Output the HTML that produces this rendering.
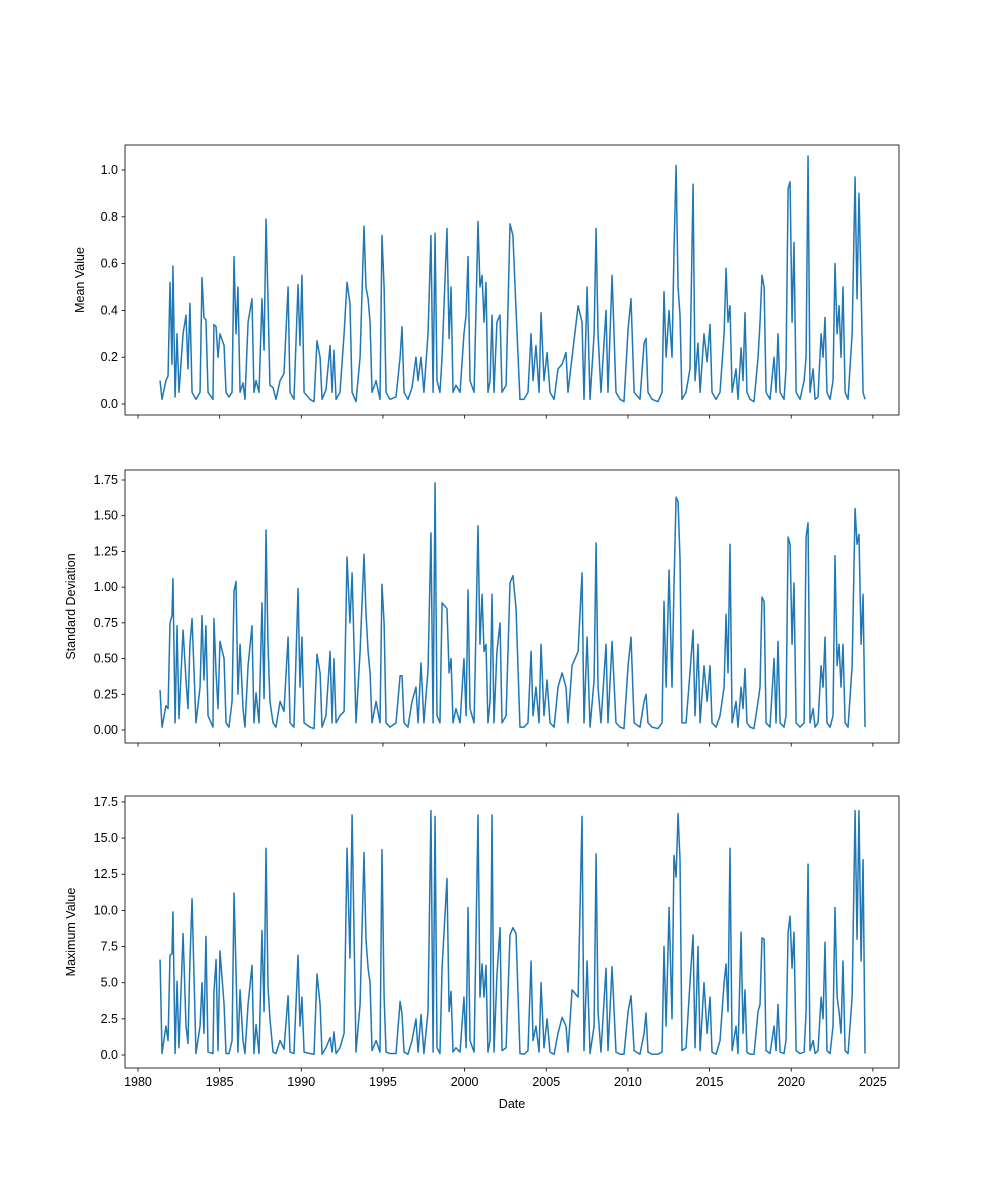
<!DOCTYPE html>
<html>
<head>
<meta charset="utf-8">
<style>
  html, body { margin: 0; padding: 0; background: #fff; }
  svg { display: block; font-family: "Liberation Sans", "DejaVu Sans", sans-serif; }
</style>
</head>
<body>
<svg id="chart" width="1000" height="1200" viewBox="0 0 1000 1200" xmlns="http://www.w3.org/2000/svg">
  <rect x="0" y="0" width="1000" height="1200" fill="#ffffff"></rect>
</svg>
<script>
const dates = [1981.35,1981.47,1981.71,1981.84,1981.96,1982.08,1982.14,1982.27,1982.39,1982.51,1982.76,1982.94,1983.06,1983.18,1983.31,1983.55,1983.8,1983.92,1984.04,1984.16,1984.29,1984.59,1984.65,1984.78,1984.9,1985.02,1985.27,1985.39,1985.57,1985.76,1985.88,1986.0,1986.12,1986.25,1986.43,1986.55,1986.74,1986.98,1987.1,1987.23,1987.41,1987.59,1987.72,1987.84,1987.96,1988.08,1988.27,1988.45,1988.7,1988.94,1989.19,1989.31,1989.55,1989.8,1989.92,1990.04,1990.17,1990.53,1990.78,1990.96,1991.15,1991.27,1991.51,1991.76,1991.88,1992.0,1992.13,1992.37,1992.62,1992.8,1992.98,1993.11,1993.35,1993.6,1993.84,1993.96,1994.09,1994.21,1994.33,1994.58,1994.82,1994.94,1995.07,1995.19,1995.43,1995.8,1996.05,1996.17,1996.29,1996.53,1996.78,1997.02,1997.15,1997.33,1997.51,1997.76,1997.94,1998.07,1998.19,1998.31,1998.49,1998.62,1998.92,1999.05,1999.17,1999.29,1999.47,1999.72,1999.96,2000.09,2000.21,2000.33,2000.58,2000.82,2000.94,2001.07,2001.19,2001.31,2001.43,2001.56,2001.68,2001.8,2001.98,2002.17,2002.29,2002.54,2002.78,2002.96,2003.15,2003.39,2003.64,2003.88,2004.07,2004.19,2004.37,2004.56,2004.68,2004.86,2005.05,2005.23,2005.48,2005.72,2005.97,2006.21,2006.33,2006.58,2006.95,2007.19,2007.31,2007.5,2007.68,2007.93,2008.05,2008.17,2008.35,2008.66,2008.78,2009.03,2009.27,2009.52,2009.76,2010.01,2010.19,2010.38,2010.74,2010.99,2011.11,2011.23,2011.48,2011.84,2012.09,2012.21,2012.34,2012.52,2012.7,2012.82,2012.95,2013.07,2013.19,2013.31,2013.56,2013.8,2013.99,2014.11,2014.29,2014.42,2014.66,2014.85,2015.03,2015.15,2015.4,2015.64,2015.89,2016.01,2016.13,2016.25,2016.38,2016.62,2016.74,2016.93,2017.05,2017.17,2017.29,2017.48,2017.72,2017.97,2018.09,2018.21,2018.34,2018.46,2018.7,2018.95,2019.07,2019.19,2019.32,2019.56,2019.68,2019.81,2019.93,2020.05,2020.17,2020.3,2020.54,2020.79,2020.91,2021.03,2021.15,2021.34,2021.46,2021.64,2021.83,2021.95,2022.07,2022.19,2022.38,2022.56,2022.68,2022.81,2022.93,2023.05,2023.17,2023.3,2023.48,2023.73,2023.91,2024.03,2024.15,2024.28,2024.4,2024.52];

const meanVals = [0.1,0.02,0.1,0.12,0.52,0.17,0.59,0.03,0.3,0.05,0.3,0.38,0.15,0.43,0.05,0.02,0.05,0.54,0.37,0.36,0.05,0.02,0.34,0.33,0.2,0.3,0.25,0.05,0.03,0.05,0.63,0.3,0.5,0.05,0.09,0.02,0.35,0.45,0.05,0.1,0.05,0.45,0.23,0.79,0.45,0.08,0.07,0.02,0.1,0.13,0.5,0.05,0.02,0.51,0.25,0.55,0.05,0.02,0.01,0.27,0.2,0.02,0.06,0.25,0.05,0.23,0.02,0.05,0.3,0.52,0.43,0.05,0.01,0.2,0.76,0.5,0.45,0.35,0.05,0.1,0.02,0.72,0.5,0.05,0.02,0.03,0.2,0.33,0.05,0.02,0.07,0.2,0.1,0.2,0.05,0.3,0.72,0.05,0.73,0.1,0.05,0.2,0.75,0.28,0.5,0.05,0.08,0.05,0.3,0.38,0.63,0.1,0.05,0.78,0.5,0.55,0.35,0.52,0.05,0.1,0.38,0.05,0.35,0.38,0.05,0.08,0.77,0.72,0.4,0.02,0.02,0.05,0.3,0.1,0.25,0.05,0.39,0.1,0.22,0.05,0.02,0.15,0.17,0.22,0.05,0.2,0.42,0.35,0.02,0.5,0.02,0.3,0.75,0.3,0.05,0.4,0.05,0.55,0.05,0.02,0.01,0.32,0.45,0.05,0.02,0.26,0.28,0.05,0.02,0.01,0.05,0.48,0.2,0.4,0.2,0.65,1.02,0.5,0.38,0.02,0.05,0.15,0.94,0.1,0.26,0.05,0.3,0.18,0.34,0.05,0.02,0.05,0.3,0.58,0.35,0.42,0.05,0.15,0.02,0.24,0.1,0.39,0.05,0.02,0.01,0.2,0.35,0.55,0.5,0.05,0.02,0.2,0.05,0.3,0.05,0.02,0.15,0.92,0.95,0.35,0.69,0.05,0.02,0.1,0.2,1.06,0.05,0.15,0.02,0.03,0.3,0.2,0.37,0.05,0.02,0.1,0.6,0.3,0.42,0.2,0.5,0.05,0.02,0.3,0.97,0.45,0.9,0.5,0.05,0.02];

const stdVals = [0.28,0.02,0.17,0.15,0.75,0.8,1.06,0.05,0.73,0.08,0.7,0.35,0.15,0.6,0.78,0.05,0.3,0.8,0.35,0.73,0.1,0.02,0.78,0.4,0.15,0.62,0.5,0.05,0.02,0.2,0.97,1.04,0.25,0.6,0.15,0.02,0.45,0.73,0.05,0.26,0.05,0.89,0.22,1.4,0.6,0.2,0.05,0.02,0.2,0.13,0.65,0.05,0.02,0.99,0.3,0.65,0.05,0.02,0.01,0.53,0.4,0.02,0.1,0.55,0.05,0.5,0.05,0.1,0.13,1.21,0.75,1.1,0.05,0.55,1.23,0.82,0.55,0.4,0.05,0.2,0.05,1.02,0.75,0.05,0.02,0.05,0.38,0.38,0.05,0.02,0.2,0.3,0.05,0.47,0.05,0.42,1.38,0.05,1.73,0.1,0.05,0.89,0.85,0.4,0.5,0.05,0.15,0.05,0.5,0.1,0.98,0.15,0.05,1.43,0.6,0.95,0.55,0.6,0.05,0.2,0.95,0.05,0.55,0.75,0.05,0.1,1.03,1.08,0.85,0.02,0.02,0.05,0.55,0.1,0.3,0.05,0.6,0.1,0.35,0.05,0.02,0.3,0.4,0.3,0.05,0.45,0.55,1.1,0.05,0.65,0.02,0.35,1.31,0.3,0.05,0.6,0.05,0.62,0.05,0.02,0.01,0.45,0.65,0.05,0.02,0.2,0.25,0.05,0.02,0.01,0.05,0.9,0.3,1.12,0.3,1.0,1.63,1.6,1.2,0.05,0.05,0.4,0.7,0.1,0.6,0.05,0.45,0.2,0.45,0.05,0.02,0.1,0.3,0.81,0.4,1.3,0.05,0.2,0.02,0.3,0.15,0.43,0.05,0.02,0.01,0.2,0.3,0.93,0.9,0.05,0.02,0.5,0.05,0.62,0.05,0.02,0.1,1.35,1.3,0.6,1.03,0.05,0.02,0.05,1.35,1.45,0.05,0.15,0.02,0.05,0.45,0.3,0.65,0.05,0.02,0.1,1.22,0.45,0.6,0.3,0.6,0.05,0.02,0.45,1.55,1.3,1.37,0.6,0.95,0.02];

const maxVals = [6.6,0.1,2.0,1.0,6.9,7.0,9.9,0.1,5.1,0.5,8.4,2.0,0.8,6.5,10.8,0.1,2.0,5.0,1.5,8.2,0.2,0.1,4.3,6.6,0.3,7.2,3.5,0.1,0.1,1.0,11.2,6.0,0.2,4.5,1.0,0.1,3.5,6.2,0.1,2.1,0.1,8.6,3.0,14.3,4.8,2.5,0.2,0.1,1.0,0.4,4.1,0.2,0.1,6.9,2.0,4.0,0.2,0.1,0.05,5.6,3.5,0.05,0.5,1.2,0.2,1.6,0.1,0.5,1.5,14.3,6.7,16.6,0.2,3.5,14.0,8.0,6.0,5.0,0.3,1.0,0.2,14.2,4.0,0.2,0.1,0.1,3.7,2.8,0.2,0.05,1.0,2.5,0.2,2.8,0.1,3.0,16.9,0.2,16.5,0.5,0.1,6.0,12.2,3.0,4.4,0.2,0.5,0.2,4.0,0.5,10.2,1.0,0.2,16.6,4.0,6.3,4.0,6.2,0.2,1.0,16.6,0.2,5.5,8.8,0.3,0.5,8.3,8.8,8.4,0.1,0.05,0.3,6.5,1.0,2.0,0.2,5.0,0.5,2.5,0.2,0.05,1.5,2.6,2.0,0.2,4.5,4.0,16.5,0.3,6.5,0.1,2.0,13.9,3.0,0.2,6.0,0.3,6.1,0.2,0.05,0.05,3.0,4.1,0.3,0.05,1.5,2.9,0.2,0.05,0.05,0.2,7.5,2.0,10.2,2.5,13.8,12.3,16.7,13.5,0.3,0.5,5.0,8.3,0.5,7.5,0.3,5.0,1.5,4.0,0.2,0.05,1.0,5.0,6.3,3.0,14.3,0.3,2.0,0.1,8.5,1.5,4.5,0.2,0.05,0.05,3.0,3.5,8.1,8.0,0.3,0.1,2.0,0.3,3.5,0.2,0.1,1.0,8.5,9.6,6.0,8.5,0.3,0.1,0.2,3.0,13.2,0.3,1.0,0.1,0.3,4.0,2.5,7.8,0.3,0.1,2.0,10.2,4.0,3.0,1.5,6.5,0.3,0.1,4.0,16.9,8.0,16.9,6.5,13.5,0.1];

const xTicks = [1980,1985,1990,1995,2000,2005,2010,2015,2020,2025];
const meanTicks = [0.0,0.2,0.4,0.6,0.8,1.0];
const meanTickLabels = ["0.0","0.2","0.4","0.6","0.8","1.0"];
const stdTicks = [0,0.25,0.5,0.75,1.0,1.25,1.5,1.75];
const stdTickLabels = ["0.00","0.25","0.50","0.75","1.00","1.25","1.50","1.75"];
const maxTicks = [0,2.5,5,7.5,10,12.5,15,17.5];
const maxTickLabels = ["0.0","2.5","5.0","7.5","10.0","12.5","15.0","17.5"];

const NS = "http://www.w3.org/2000/svg";
const svg = document.getElementById('chart');
function mk(tag, attrs, parent) {
  const e = document.createElementNS(NS, tag);
  for (const k in attrs) e.setAttribute(k, attrs[k]);
  (parent || svg).appendChild(e);
  return e;
}

const L = 125, R = 899;
const xMin = 1979.204, xMax = 2026.6;
function xScale(v) { return L + (v - xMin) / (xMax - xMin) * (R - L); }

const panels = [
  { name: 'mean', top: 145, bottom: 415, yMin: -0.047, yMax: 1.107, vals: meanVals, ticks: meanTicks, labels: meanTickLabels, title: 'Mean Value', tx: 84 },
  { name: 'std', top: 470, bottom: 743, yMin: -0.091, yMax: 1.82, vals: stdVals, ticks: stdTicks, labels: stdTickLabels, title: 'Standard Deviation', tx: 75 },
  { name: 'max', top: 796, bottom: 1068, yMin: -0.9, yMax: 17.91, vals: maxVals, ticks: maxTicks, labels: maxTickLabels, title: 'Maximum Value', tx: 75 }
];

panels.forEach((p, idx) => {
  const g = mk('g', {});
  
  
  const yScale = v => p.bottom - (v - p.yMin) / (p.yMax - p.yMin) * (p.bottom - p.top);

  let d = '';
  for (let i = 0; i < dates.length; i++) {
    d += (i ? 'L' : 'M') + xScale(dates[i]).toFixed(2) + ',' + yScale(p.vals[i]).toFixed(2);
  }
  const line = mk('path', { d: d, fill: 'none', stroke: '#1f77b4', 'stroke-width': 1.5, 'stroke-linejoin': 'round' }, g);
  
  

  const frame = mk('rect', { x: L, y: p.top, width: R - L, height: p.bottom - p.top, fill: 'none', stroke: '#000', 'stroke-width': 0.8 }, g);
  
  

  p.ticks.forEach((t, i) => {
    const y = yScale(t);
    mk('line', { x1: L - 3.5, x2: L, y1: y, y2: y, stroke: '#000', 'stroke-width': 0.8 }, g);
    const tl = mk('text', { x: L - 7, y: y + 4, 'text-anchor': 'end', 'font-size': 12.5, fill: '#000' }, g);
    tl.textContent = p.labels[i];
    
    
  });

  xTicks.forEach(t => {
    const x = xScale(t);
    mk('line', { x1: x, x2: x, y1: p.bottom, y2: p.bottom + 3.5, stroke: '#000', 'stroke-width': 0.8 }, g);
    if (idx === 2) {
      const xl = mk('text', { x: x, y: p.bottom + 18, 'text-anchor': 'middle', 'font-size': 12.5, fill: '#000' }, g);
      xl.textContent = String(t);
      
      
    }
  });

  const cy = (p.top + p.bottom) / 2;
  const yt = mk('text', { x: 0, y: 0, transform: 'translate(' + p.tx + ',' + cy + ') rotate(-90)', 'text-anchor': 'middle', 'font-size': 12.5, fill: '#000' }, g);
  yt.textContent = p.title;
  
  
});

const xt = mk('text', { x: (L + R) / 2, y: 1108, 'text-anchor': 'middle', 'font-size': 12.5, fill: '#000' });
xt.textContent = 'Date';


</script>
</body>
</html>
